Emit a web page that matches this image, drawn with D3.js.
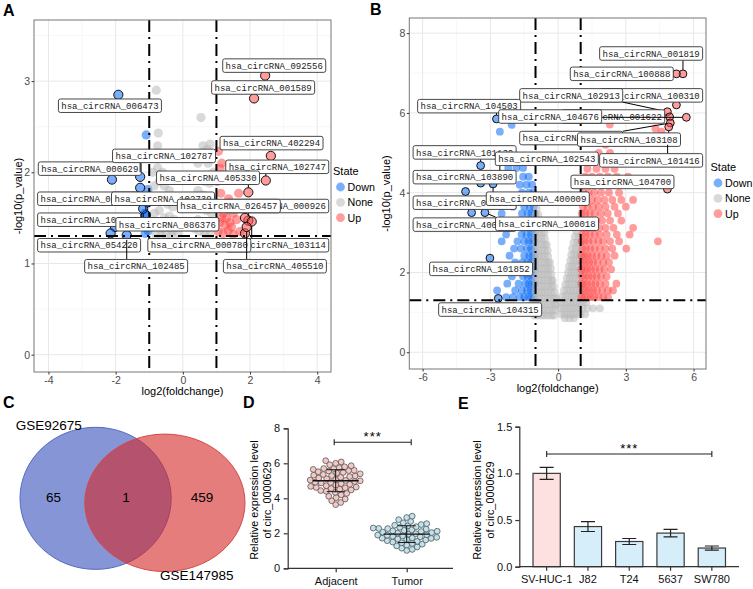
<!DOCTYPE html>
<html>
<head>
<meta charset="UTF-8">
<title>circ_0000629 figure</title>
<script src="https://cdn.jsdelivr.net/npm/d3@7"></script>
<style>
  body { margin: 0; background: #fff; }
  svg { display: block; font-family: "Liberation Sans", Arial, sans-serif; }
</style>
</head>
<body>
<svg id="fig" width="753" height="589"></svg>
<script>
// ---------- panel A (GSE92675 volcano) : [log2FC, -log10 p] ----------
const downA = [[-1.09,2.41],[-1.04,1.81],[-1.05,1.66],[-1.13,1.55],[-1.06,1.45],[-1.03,1.36],[-1.2,1.42],[-1.12,1.33],[-1.3,1.5]];
const noneA = [[-0.79,2.9],[0.54,2.6],[-0.73,2.43],[-0.75,2.29],[0.6,2.29],[0.81,2.31],[0.72,2.25],
  [-0.9,2.0],[-0.75,2.05],[-0.6,2.0],[-0.85,1.85],[-0.7,1.9],[-0.55,1.85],[-0.4,1.8],[-0.9,1.7],[-0.75,1.72],
  [-0.6,1.68],[-0.45,1.65],[-0.3,1.62],[-0.85,1.55],[-0.7,1.58],[-0.55,1.5],[-0.4,1.52],[-0.25,1.48],[-0.9,1.42],
  [-0.75,1.4],[-0.6,1.38],[-0.45,1.4],[-0.3,1.36],[-0.15,1.33],[-0.8,1.32],[-0.65,1.31],[-0.5,1.32],[-0.35,1.31],
  [0.45,2.1],[0.6,2.15],[0.75,2.1],[0.9,2.0],[0.5,1.95],[0.65,1.9],[0.8,1.88],[0.45,1.8],[0.6,1.75],[0.75,1.72],
  [0.9,1.7],[0.4,1.62],[0.55,1.6],[0.7,1.58],[0.85,1.55],[0.45,1.48],[0.6,1.45],[0.75,1.42],[0.9,1.4],[0.5,1.35],
  [0.65,1.33],[0.8,1.31],[0.35,1.38]];
const upA = [[1.06,2.23],[1.16,2.1],[1.11,2.04],[1.02,1.9],[1.13,1.77],[1.36,1.71],[1.66,1.77],[1.05,1.6],[1.2,1.55],
  [1.35,1.6],[1.5,1.55],[1.1,1.45],[1.25,1.42],[1.4,1.45],[1.6,1.48],[1.05,1.35],[1.2,1.33],[1.35,1.36],[1.5,1.32],
  [1.7,1.35],[1.15,1.5],[1.3,1.5],[1.45,1.4]];
const labelsA = [
  ["hsa_circRNA_092556",2.45,3.06],["hsa_circRNA_001589",2.12,2.81],["hsa_circRNA_006473",-1.92,2.85],
  ["hsa_circRNA_402294",2.62,2.18],["hsa_circRNA_000629",-2.11,1.92],["hsa_circRNA_102787",-1.27,1.95],
  ["hsa_circRNA_102747",2.47,1.91],["hsa_circRNA_405330",1.95,1.78],["hsa_circRNA_089763",-1.27,1.83],
  ["hsa_circRNA_102739",-1.1,1.53],["hsa_circRNA_000926",1.95,1.47],["hsa_circRNA_026457",1.85,1.5],
  ["hsa_circRNA_103410",-2.02,1.4],["hsa_circRNA_086376",-1.18,1.6],["hsa_circRNA_054220",-2.15,1.33],
  ["hsa_circRNA_103114",2.05,1.46],["hsa_circRNA_000780",1.85,1.33],["hsa_circRNA_102485",-1.67,1.31],
  ["hsa_circRNA_405510",1.9,1.4]];
// label box centres (data units), same order
const labelPosA = [[2.72,3.17],[2.39,2.93],[-2.17,2.73],[2.64,2.32],[-2.77,2.04],[-0.56,2.18],[2.81,2.06],[0.75,1.94],
  [-2.79,1.71],[-0.59,1.71],[2.81,1.63],[1.37,1.63],[-2.79,1.48],[-0.46,1.43],[-2.79,1.2],[2.81,1.2],[0.49,1.2],
  [-1.39,0.97],[2.74,0.97]];

// ---------- panel B (GSE147985 volcano) : rows of [ -log10 p, [log2FC...] ] ----------
const downRowsB = [
  [1.38,[-1.05,-1.18,-1.32,-1.5,-1.7,-2.0,-2.3]],[1.55,[-1.08,-1.22,-1.38,-1.6,-1.9,-2.7]],
  [1.72,[-1.04,-1.16,-1.3,-1.45,-1.75,-2.25]],[1.9,[-1.07,-1.2,-1.35,-1.55,-2.05]],
  [2.08,[-1.04,-1.15,-1.28,-1.45,-1.68,-2.4]],[2.25,[-1.06,-1.2,-1.36,-1.58,-1.9]],
  [2.42,[-1.03,-1.14,-1.28,-1.5,-2.15]],[2.6,[-1.07,-1.2,-1.38,-1.65,-1.95]],
  [2.78,[-1.04,-1.16,-1.3,-1.5,-1.8,-2.5]],[2.95,[-1.06,-1.2,-1.4,-1.62,-2.3]],
  [3.12,[-1.03,-1.15,-1.3,-1.55,-2.2]],[3.3,[-1.07,-1.22,-1.42,-1.75]],
  [3.48,[-1.04,-1.18,-1.35,-1.6,-2.5]],[3.65,[-1.08,-1.25,-1.5,-2.0]],
  [3.82,[-1.05,-1.2,-1.42,-1.9]],[4.0,[-1.1,-1.3,-1.6]],[4.2,[-1.15,-1.4,-1.7]],
  [4.4,[-1.3,-1.55]],[4.62,[-1.55,-2.21,-1.85]],[5.53,[-2.58]],[5.7,[-2.06]]];
const noneRowsB = [
  [3.6,[-0.95]],[3.45,[-1.0,-0.88]],[3.3,[-1.0,-0.88,-0.78]],[3.15,[-1.0,-0.88,-0.76]],
  [3.0,[-1.0,-0.86,-0.72,-0.6]],[2.85,[-1.0,-0.86,-0.72,-0.58]],[2.7,[-1.0,-0.86,-0.72,-0.58,-0.5]],
  [2.55,[-1.0,-0.86,-0.72,-0.58,-0.46]],[2.4,[-1.0,-0.86,-0.72,-0.58,-0.44]],
  [2.25,[-1.0,-0.86,-0.72,-0.58,-0.44,-0.36]],[2.1,[-1.0,-0.86,-0.72,-0.58,-0.44,-0.32]],
  [1.95,[-1.0,-0.86,-0.72,-0.58,-0.44,-0.3]],[1.8,[-1.0,-0.86,-0.72,-0.58,-0.44,-0.3,-0.24]],
  [1.65,[-1.0,-0.86,-0.72,-0.58,-0.44,-0.3,-0.2]],[1.5,[-1.0,-0.86,-0.72,-0.58,-0.44,-0.3,-0.16]],
  [1.35,[-1.0,-0.86,-0.72,-0.58,-0.44,-0.3,-0.16,-0.08]],
  [1.2,[-1.2,-1.05,-0.9,-0.75,-0.6,-0.45,-0.3,-0.15,-0.08]],
  [1.05,[-1.3,-1.15,-1.0,-0.85,-0.7,-0.55,-0.4,-0.25,-0.12]],
  [0.92,[-1.05,-0.9,-0.75,-0.6,-0.45,-0.3,-0.18]],
  [3.05,[0.8]],[2.9,[0.74,0.9]],[2.75,[0.68,0.84,0.98]],[2.6,[0.62,0.78,0.94]],
  [2.45,[0.58,0.72,0.86,0.98]],[2.3,[0.54,0.68,0.82,0.96]],[2.15,[0.48,0.62,0.76,0.9]],
  [2.0,[0.44,0.58,0.72,0.86,0.98]],[1.85,[0.38,0.52,0.66,0.8,0.94]],[1.7,[0.32,0.46,0.6,0.74,0.88,0.98]],
  [1.55,[0.26,0.4,0.54,0.68,0.82,0.96]],[1.4,[0.18,0.32,0.46,0.6,0.74,0.88,0.98]],
  [1.25,[0.12,0.26,0.4,0.54,0.68,0.82,0.96,1.1,1.25]],
  [1.1,[0.1,0.24,0.38,0.52,0.66,0.8,0.94,1.08,1.3,1.55,1.85]],
  [0.95,[0.14,0.28,0.42,0.56,0.7,0.84,1.0,1.2]],[0.85,[0.3,0.5,0.7]]];
const upRowsB = [
  [1.38,[1.04,1.16,1.3,1.45,1.6,1.8,2.0,2.21]],[1.55,[1.08,1.22,1.38,1.55,1.72,1.95,2.2,2.43]],
  [1.72,[1.03,1.15,1.3,1.48,1.65,1.85,2.1,2.58]],[1.9,[1.06,1.2,1.35,1.52,1.7,1.9,2.15]],
  [2.08,[1.03,1.16,1.3,1.46,1.64,1.84,2.05,2.35]],[2.25,[1.07,1.22,1.38,1.55,1.75,2.0,2.25]],
  [2.42,[1.04,1.17,1.32,1.5,1.7,1.92,2.15,2.5]],[2.6,[1.08,1.24,1.42,1.62,1.85,2.1,2.4,3.02]],
  [2.78,[1.04,1.18,1.35,1.55,1.78,2.0,2.3,2.7,4.42]],[2.95,[1.07,1.22,1.4,1.62,1.85,2.15,2.6,3.17]],
  [3.12,[1.04,1.2,1.38,1.58,1.82,2.1,2.45,3.32]],[3.3,[1.08,1.25,1.45,1.7,1.95,2.3,2.8]],
  [3.48,[1.05,1.2,1.4,1.62,1.9,2.2,2.65]],[3.65,[1.1,1.3,1.55,1.8,2.1,2.5,3.0]],
  [3.82,[1.05,1.25,1.5,1.75,2.05,2.4,2.8,3.32]],[4.0,[1.12,1.35,1.6,1.9,2.25,2.7]],
  [4.2,[1.08,1.3,1.6,1.95,2.35,2.9]],[4.4,[1.2,1.5,1.85,2.2,2.6,3.1]],[4.6,[1.3,1.7,2.1,2.5]],
  [4.8,[1.5,1.95,2.4]],[5.0,[1.8,2.3]],[5.2,[2.1]],[5.61,[4.31]],[5.53,[4.58]],[5.71,[2.29]]];
const labelsB = [
  ["hsa_circRNA_001819",5.53,6.98],["hsa_circRNA_100888",5.24,6.98],["hsa_circRNA_100310",5.24,6.2],
  ["hsa_circRNA_102913",4.84,6.03],["hsa_circRNA_104503",-2.73,5.85],["hsa_circRNA_001622",4.94,5.9],
  ["hsa_circRNA_104676",5.68,5.89],["hsa_circRNA_104270",4.97,5.75],["hsa_circRNA_103108",4.9,5.65],
  ["hsa_circRNA_101416",4.85,5.3],["hsa_circRNA_101130",-3.43,4.68],["hsa_circRNA_102543",-2.58,4.4],
  ["hsa_circRNA_103890",-3.43,4.24],["hsa_circRNA_104700",4.84,4.09],["hsa_circRNA_001193",-4.1,4.03],
  ["hsa_circRNA_400009",-2.88,4.22],["hsa_circRNA_400027",-3.83,3.5],["hsa_circRNA_100018",-3.24,3.5],
  ["hsa_circRNA_101852",-3.02,2.36],["hsa_circRNA_104315",-2.65,1.35]];
const labelPosB = [[4.12,7.49],[2.82,6.98],[4.12,6.44],[0.58,6.44],[-3.94,6.17],[2.44,5.91],[-0.35,5.91],
  [0.58,5.37],[3.14,5.33],[4.12,4.81],[-4.14,5.01],[-0.5,4.85],[-4.14,4.39],[2.85,4.27],[-4.14,3.75],
  [-0.9,3.85],[-4.14,3.2],[-0.49,3.22],[-3.41,2.09],[-3.01,1.07]];

// ---------- panel C (Venn) ----------
const vennNames = ["GSE92675", "GSE147985"];
const vennCounts = [65, 1, 459];

// ---------- panel D (tissue expression) ----------
const tissueGroups = ["Adjacent", "Tumor"];
const adjacentVals = [6.15,6.08,6.0,5.92,5.86,5.8,5.75,5.7,5.65,5.6,5.56,5.52,5.48,5.44,5.4,5.36,5.32,5.28,5.24,5.2,
  5.16,5.12,5.08,5.04,5.0,4.96,4.92,4.88,4.84,4.8,4.76,4.72,4.68,4.64,4.6,4.56,4.52,4.48,4.44,4.4,4.34,4.28,4.2,
  4.12,4.04,3.96,3.86,3.76,3.64,5.58,5.02,4.62,5.3,4.9,5.7];
const tumorVals = [2.98,2.9,2.78,2.68,2.6,2.55,2.5,2.46,2.42,2.38,2.34,2.3,2.27,2.24,2.2,2.17,2.14,2.1,2.07,2.04,
  2.01,1.98,1.95,1.92,1.89,1.86,1.83,1.8,1.77,1.74,1.71,1.68,1.65,1.62,1.58,1.54,1.5,1.46,1.42,1.38,1.33,1.28,
  1.22,1.15,1.08,1.02,2.12,1.9,2.28,1.72];

// ---------- panel E (cell lines) ----------
const cellLines = ["SV-HUC-1", "J82", "T24", "5637", "SW780"];
const cellMeans = [1.0, 0.43, 0.27, 0.36, 0.2];
const cellErr = [0.065, 0.053, 0.032, 0.04, 0.022];

const svg = d3.select("#fig");
const stateColor = { Down: "#0a6cf5", None: "#b9b9b9", Up: "#ff4d4d" };
const stateAlpha = 0.55;
const rows = r => r.flatMap(([yv, xs]) => xs.map(xv => [xv, yv]));

function volcano(o) {
  const [L, T, R, B] = o.box;
  const x = d3.scaleLinear().domain(o.xDomain).range([L, R]);
  const y = d3.scaleLinear().domain(o.yDomain).range([B, T]);
  const g = svg.append("g");

  const grid = (vals, vert, col, w) => g.append("g").selectAll("line").data(vals).join("line")
    .attr("x1", d => vert ? x(d) : L).attr("x2", d => vert ? x(d) : R)
    .attr("y1", d => vert ? T : y(d)).attr("y2", d => vert ? B : y(d))
    .attr("stroke", col).attr("stroke-width", w);
  grid(o.xMinor, true, "#f4f4f4", 0.6);
  grid(o.yMinor, false, "#f4f4f4", 0.6);
  grid(o.xTicks, true, "#e8e8e8", 1);
  grid(o.yTicks, false, "#e8e8e8", 1);

  [["Down", o.down], ["None", o.none], ["Up", o.up]].forEach(([k, pts]) => {
    g.append("g").selectAll("circle").data(pts).join("circle")
      .attr("cx", d => x(d[0])).attr("cy", d => y(d[1])).attr("r", o.r)
      .attr("fill", stateColor[k]).attr("fill-opacity", stateAlpha);
  });
  g.append("g").selectAll("circle").data(o.labels).join("circle")
    .attr("cx", d => x(d[1])).attr("cy", d => y(d[2])).attr("r", o.r)
    .attr("fill", d => stateColor[d[1] < -1 ? "Down" : d[1] > 1 ? "Up" : "None"])
    .attr("fill-opacity", stateAlpha).attr("stroke", "#111").attr("stroke-width", 1);

  // thresholds
  const dash = "12 5 2 5";
  g.append("g").selectAll("line").data([-1, 1]).join("line")
    .attr("x1", d => x(d)).attr("x2", d => x(d)).attr("y1", T).attr("y2", B)
    .attr("stroke", "#000").attr("stroke-width", 2).attr("stroke-dasharray", dash);
  g.append("line").attr("x1", L).attr("x2", R).attr("y1", y(-Math.log10(0.05))).attr("y2", y(-Math.log10(0.05)))
    .attr("stroke", "#000").attr("stroke-width", 2).attr("stroke-dasharray", dash);

  g.append("rect").attr("x", L).attr("y", T).attr("width", R - L).attr("height", B - T)
    .attr("fill", "none").attr("stroke", "#777").attr("stroke-width", 1);

  const ax = g.append("g").attr("transform", `translate(0,${B})`)
    .call(d3.axisBottom(x).tickValues(o.xTicks).tickSize(2.5).tickPadding(2.5).tickFormat(d => String(d)));
  const ay = g.append("g").attr("transform", `translate(${L},0)`)
    .call(d3.axisLeft(y).tickValues(o.yTicks).tickSize(2.5).tickPadding(1.5).tickFormat(d => String(d)));
  [ax, ay].forEach(a => {
    a.select(".domain").remove();
    a.selectAll("line").attr("stroke", "#333");
    a.selectAll("text").attr("fill", "#4d4d4d").style("font-size", "10.5px");
  });
  g.append("text").attr("x", (L + R) / 2).attr("y", o.xTitleY).attr("text-anchor", "middle")
    .style("font-size", "11px").text("log2(foldchange)");
  g.append("text").attr("transform", `translate(${o.yTitleX},${(T + B) / 2}) rotate(-90)`)
    .attr("text-anchor", "middle").style("font-size", "11px").text("-log10(p_value)");

  // legend
  const lg = g.append("g").attr("transform", `translate(${o.legend[0]},${o.legend[1]})`);
  lg.append("text").attr("x", 0).attr("y", 0).style("font-size", "11px").text("State");
  ["Down", "None", "Up"].forEach((k, i) => {
    lg.append("circle").attr("cx", 7.5).attr("cy", 12 + i * 15.3).attr("r", 4.4)
      .attr("fill", stateColor[k]).attr("fill-opacity", stateAlpha);
    lg.append("text").attr("x", 14.5).attr("y", 12 + i * 15.3 + 4).style("font-size", "10.7px").text(k);
  });

  // repelled labels: segment, box, text per label
  const bw = 103, bh = 13.5;
  o.labels.forEach((d, i) => {
    const px = x(d[1]), py = y(d[2]);
    const cx = x(o.labelPos[i][0]), cy = y(o.labelPos[i][1]);
    const l = g.append("g");
    const nx = Math.max(cx - bw / 2, Math.min(px, cx + bw / 2));
    const ny = Math.max(cy - bh / 2, Math.min(py, cy + bh / 2));
    const dx = px - nx, dy = py - ny, dist = Math.hypot(dx, dy);
    if (dist > o.r + 1.5) {
      l.append("line").attr("x1", nx).attr("y1", ny)
        .attr("x2", px - dx / dist * o.r).attr("y2", py - dy / dist * o.r)
        .attr("stroke", "#000").attr("stroke-width", 1);
    }
    l.append("rect").attr("x", cx - bw / 2).attr("y", cy - bh / 2).attr("width", bw).attr("height", bh)
      .attr("rx", 2).attr("fill", "#fff").attr("stroke", "#333").attr("stroke-width", 0.9);
    l.append("text").attr("x", cx).attr("y", cy).attr("dy", "0.36em").attr("text-anchor", "middle")
      .style("font-family", "'Liberation Mono', 'DejaVu Sans Mono', monospace").style("font-size", "9px")
      .attr("fill", "#222").text(d[0]);
  });
}

volcano({
  box: [34, 20, 331, 372], xDomain: [-4.43, 4.41], yDomain: [-0.19, 3.67],
  xTicks: [-4, -2, 0, 2, 4], xMinor: [-3, -1, 1, 3], yTicks: [0, 1, 2, 3], yMinor: [0.5, 1.5, 2.5, 3.5],
  down: downA, none: noneA, up: upA, labels: labelsA, labelPos: labelPosA, r: 4.6,
  xTitleY: 395, yTitleX: 21.5, legend: [333, 175]
});
volcano({
  box: [409.3, 18, 706, 369], xDomain: [-6.59, 6.55], yDomain: [-0.42, 8.38],
  xTicks: [-6, -3, 0, 3, 6], xMinor: [-4.5, -1.5, 1.5, 4.5], yTicks: [0, 2, 4, 6, 8], yMinor: [1, 3, 5, 7],
  down: rows(downRowsB), none: rows(noneRowsB), up: rows(upRowsB), labels: labelsB, labelPos: labelPosB, r: 3.9,
  xTitleY: 392, yTitleX: 390, legend: [710.5, 171]
});

// ---------- panel C ----------
{
  const x = d3.scaleLinear().domain([0, 1]).range([20, 245]);
  const y = d3.scaleLinear().domain([0, 1]).range([427, 572]);
  const g = svg.append("g");
  const circles = [
    { cx: 0.336, cy: 0.492, rx: 0.336, ry: 0.49, fill: "#2f48b8", stroke: "#5669c4", op: 0.58 },
    { cx: 0.644, cy: 0.523, rx: 0.356, ry: 0.474, fill: "#d52626", stroke: "#d54848", op: 0.6 }];
  g.selectAll("ellipse").data(circles).join("ellipse")
    .attr("cx", d => x(d.cx)).attr("cy", d => y(d.cy))
    .attr("rx", d => x(d.rx) - x(0)).attr("ry", d => y(d.ry) - y(0))
    .attr("fill", d => d.fill).attr("fill-opacity", d => d.op)
    .attr("stroke", d => d.stroke).attr("stroke-width", 1);
  g.selectAll("text.cnt").data(vennCounts).join("text").attr("class", "cnt")
    .attr("x", (d, i) => x([0.149, 0.471, 0.809][i])).attr("y", y(0.52))
    .attr("text-anchor", "middle").style("font-size", "13.5px").text(d => d);
  g.append("text").attr("x", x(-0.019)).attr("y", y(0.02)).style("font-size", "13.5px").text(vennNames[0]);
  g.append("text").attr("x", x(0.622)).attr("y", y(1.055)).style("font-size", "13.5px").text(vennNames[1]);
}

// ---------- panel D ----------
{
  const g = svg.append("g");
  const y = d3.scaleLinear().domain([0, 8]).range([568.3, 428.3]);
  const x = d3.scalePoint().domain(tissueGroups).range([335.7, 406.7]);
  const r = 2.9;
  function swarm(vals, cx) {
    const placed = [];
    vals.slice().sort((a, b) => a - b).forEach(v => {
      const py = y(v);
      for (let k = 0; k < 200; k++) {
        const off = (k % 2 ? 1 : -1) * Math.ceil(k / 2) * 0.5;
        const px = cx + off;
        if (placed.every(p => Math.hypot(p[0] - px, p[1] - py) >= 2 * r * 0.92)) { placed.push([px, py]); break; }
      }
    });
    return placed;
  }
  const fills = ["#f3c8c5", "#bfe3ee"];
  [adjacentVals, tumorVals].forEach((vals, gi) => {
    const cx = x(tissueGroups[gi]);
    g.append("g").selectAll("circle").data(swarm(vals, cx)).join("circle")
      .attr("cx", d => d[0]).attr("cy", d => d[1]).attr("r", r)
      .attr("fill", fills[gi]).attr("stroke", "#555").attr("stroke-width", 0.8);
    const m = d3.mean(vals), sd = d3.deviation(vals);
    g.append("line").attr("x1", cx - 23).attr("x2", cx + 23).attr("y1", y(m)).attr("y2", y(m))
      .attr("stroke", "#111").attr("stroke-width", 1.4);
    g.append("line").attr("x1", cx).attr("x2", cx).attr("y1", y(m - sd)).attr("y2", y(m + sd))
      .attr("stroke", "#111").attr("stroke-width", 1);
    [m - sd, m + sd].forEach(v => g.append("line").attr("x1", cx - 9).attr("x2", cx + 9)
      .attr("y1", y(v)).attr("y2", y(v)).attr("stroke", "#111").attr("stroke-width", 1));
  });
  const ay = g.append("g").attr("transform", "translate(287.7,0)")
    .call(d3.axisLeft(y).tickValues([0, 2, 4, 6, 8]).tickSize(4).tickPadding(3.5));
  const ax = g.append("g").attr("transform", "translate(0,568.3)")
    .call(d3.axisBottom(x).tickSize(4).tickPadding(4.5));
  ax.select(".domain").remove();
  g.append("line").attr("x1", 287.7).attr("x2", 453).attr("y1", 568.3).attr("y2", 568.3)
    .attr("stroke", "#333").attr("stroke-width", 1.2);
  [ax, ay].forEach(a => {
    a.selectAll("line,path").attr("stroke", "#333").attr("stroke-width", 1.2);
    a.selectAll("text").attr("fill", "#111").style("font-size", "11px").style("font-family", "'Liberation Sans', Arial, sans-serif");
  });
  const sy = 442.3, x1 = x("Adjacent") - 1.5, x2 = x("Tumor") + 4.5;
  g.append("path").attr("d", `M${x1},${sy - 3}V${sy + 3}M${x1},${sy}H${x2}M${x2},${sy - 3}V${sy + 3}`)
    .attr("stroke", "#222").attr("fill", "none").attr("stroke-width", 1.1);
  g.append("text").attr("x", (x1 + x2) / 2).attr("y", sy - 1.5).attr("text-anchor", "middle")
    .style("font-size", "13px").style("letter-spacing", "1px").text("***");
  const yl = g.append("text").attr("transform", "translate(258,500) rotate(-90)").attr("text-anchor", "middle")
    .style("font-size", "10.8px");
  yl.append("tspan").attr("x", 0).attr("dy", 0).text("Relative expression level");
  yl.append("tspan").attr("x", 0).attr("dy", 13).text("of circ_0000629");
}

// ---------- panel E ----------
{
  const g = svg.append("g");
  const y = d3.scaleLinear().domain([0, 1.5]).range([566.7, 426.7]);
  const x = d3.scaleBand().domain(cellLines).range([526, 732.5]).paddingInner(0.34).paddingOuter(0.17);
  const bars = cellLines.map((c, i) => ({ c, m: cellMeans[i], e: cellErr[i] }));
  g.selectAll("rect").data(bars).join("rect")
    .attr("x", d => x(d.c)).attr("width", x.bandwidth())
    .attr("y", d => y(d.m)).attr("height", d => y(0) - y(d.m))
    .attr("fill", (d, i) => i === 0 ? "#fde0e0" : "#d5eef9").attr("stroke", "#3a3a3a").attr("stroke-width", 1.2);
  bars.forEach(d => {
    const cx = x(d.c) + x.bandwidth() / 2;
    g.append("path").attr("d", `M${cx - 7},${y(d.m + d.e)}H${cx + 7}M${cx},${y(d.m + d.e)}V${y(d.m - d.e)}M${cx - 7},${y(d.m - d.e)}H${cx + 7}`)
      .attr("stroke", "#222").attr("fill", "none").attr("stroke-width", 1.2);
  });
  const ay = g.append("g").attr("transform", "translate(519.3,0)")
    .call(d3.axisLeft(y).tickValues([0, 0.5, 1, 1.5]).tickFormat(d3.format(".1f")).tickSize(4).tickPadding(3));
  const ax = g.append("g").attr("transform", "translate(0,566.7)")
    .call(d3.axisBottom(x).tickSize(4).tickPadding(4.5));
  ax.select(".domain").remove();
  g.append("line").attr("x1", 519.3).attr("x2", 739).attr("y1", 566.7).attr("y2", 566.7)
    .attr("stroke", "#333").attr("stroke-width", 1.2);
  [ax, ay].forEach(a => {
    a.selectAll("line,path").attr("stroke", "#333").attr("stroke-width", 1.2);
    a.selectAll("text").attr("fill", "#111").style("font-size", "11px").style("font-family", "'Liberation Sans', Arial, sans-serif");
  });
  const sy = 454, x1 = x(cellLines[0]) + x.bandwidth() / 2, x2 = x(cellLines[4]) + x.bandwidth() / 2;
  g.append("path").attr("d", `M${x1},${sy - 3}V${sy + 3}M${x1},${sy}H${x2}M${x2},${sy - 3}V${sy + 3}`)
    .attr("stroke", "#222").attr("fill", "none").attr("stroke-width", 1.1);
  g.append("text").attr("x", (x1 + x2) / 2).attr("y", sy - 1.5).attr("text-anchor", "middle")
    .style("font-size", "13px").style("letter-spacing", "1px").text("***");
  const yl = g.append("text").attr("transform", "translate(480.5,500) rotate(-90)").attr("text-anchor", "middle")
    .style("font-size", "10.8px");
  yl.append("tspan").attr("x", 0).attr("dy", 0).text("Relative expression level");
  yl.append("tspan").attr("x", 0).attr("dy", 13.5).text("of circ_0000629");
}

// panel letters
svg.append("g").selectAll("text")
  .data([["A", 3, 16], ["B", 370, 15], ["C", 3, 408], ["D", 243, 408], ["E", 458, 409]])
  .join("text").attr("x", d => d[1]).attr("y", d => d[2])
  .style("font-size", "16px").style("font-weight", "bold").text(d => d[0]);
</script>
</body>
</html>
